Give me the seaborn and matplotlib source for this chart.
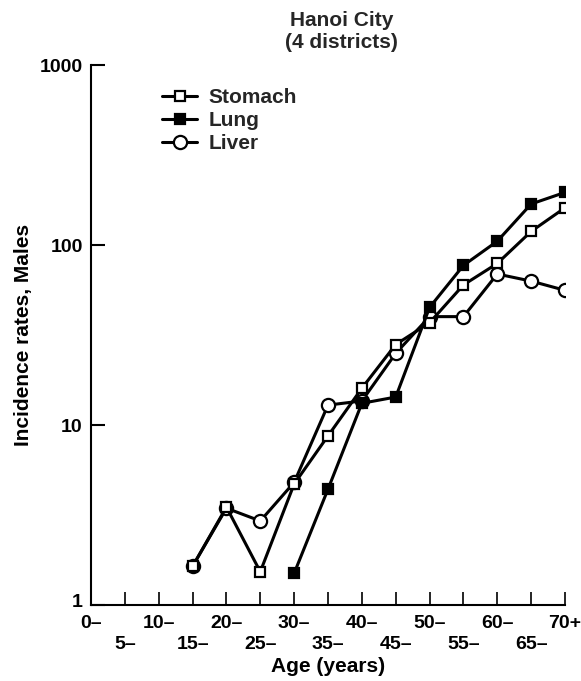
import numpy as np
import pandas as pd
import matplotlib
matplotlib.use("Agg")
import matplotlib.pyplot as plt
import matplotlib.transforms as mtransforms
import seaborn as sns

# ---- data ----
age_labels = ["0–", "5–", "10–", "15–", "20–", "25–", "30–", "35–",
              "40–", "45–", "50–", "55–", "60–", "65–", "70+"]
stomach_ages = ["15–", "20–", "25–", "30–", "35–", "40–", "45–", "50–",
                "55–", "60–", "65–", "70+"]
stomach = [1.64, 3.5, 1.53, 4.7, 8.7, 16.0, 28.0, 37.0, 60.0, 79.0, 119.0, 161.0]
lung_ages = ["30–", "35–", "40–", "45–", "50–", "55–", "60–", "65–", "70+"]
lung = [1.5, 4.4, 13.2, 14.3, 45.0, 77.0, 105.0, 169.0, 196.0]
liver_ages = stomach_ages
liver = [1.64, 3.45, 2.93, 4.8, 12.9, 13.6, 25.0, 40.0, 40.0, 69.0, 63.0, 56.0]
y_ticks = [1, 10, 100, 1000]
y_tick_labels = ["1", "10", "100", "1000"]

def frame(name, ages, vals):
    return pd.DataFrame({"age": [age_labels.index(a) for a in ages],
                         "rate": vals, "site": name})

df = pd.concat([frame("Stomach", stomach_ages, stomach),
                frame("Lung", lung_ages, lung),
                frame("Liver", liver_ages, liver)], ignore_index=True)

sns.set_theme(style="white")
plt.rcParams["font.family"] = ["Liberation Sans", "DejaVu Sans"]
plt.rcParams["font.weight"] = "bold"

fig = plt.figure(figsize=(5.81, 6.81), dpi=100)
ax = fig.add_axes([91/581, 1-605/681, 474/581, 540/681])

styles = {
    "Liver":   dict(marker="o", markerfacecolor="white", markersize=9.5, zorder=3),
    "Stomach": dict(marker="s", markerfacecolor="white", markersize=7.5, zorder=4),
    "Lung":    dict(marker="s", markerfacecolor="black", markersize=7.5, zorder=5),
}
for site in ["Liver", "Stomach", "Lung"]:
    sub = df[df["site"] == site]
    sns.lineplot(data=sub, x="age", y="rate", ax=ax, color="black",
                 linewidth=2.2, markeredgecolor="black", markeredgewidth=1.6,
                 label=site, legend=False, **styles[site])

ax.set_yscale("log")
ax.set_ylim(1, 1000)
ax.set_xlim(0, 14)
ax.set_yticks(y_ticks, labels=y_tick_labels)
ax.yaxis.set_minor_locator(matplotlib.ticker.NullLocator())

even = list(range(0, 15, 2))
odd = list(range(1, 15, 2))
ax.set_xticks(even, labels=[age_labels[i] for i in even])
ax.set_xticks(odd, labels=[age_labels[i] for i in odd], minor=True)

for s in ["top", "right"]:
    ax.spines[s].set_visible(False)
for s in ["left", "bottom"]:
    ax.spines[s].set_linewidth(1.5)
    ax.spines[s].set_color("black")

ax.tick_params(axis="y", which="major", direction="in", length=10, width=1.5,
               labelsize=14, pad=6, left=True, colors="black")
ax.tick_params(axis="x", which="major", direction="in", length=9.5, width=1.2,
               labelsize=14, pad=7, bottom=True, colors="black")
ax.tick_params(axis="x", which="minor", direction="in", length=9.5, width=1.2,
               labelsize=14, pad=22, bottom=True, colors="black")

ax.set_xlabel("Age (years)", fontsize=15, fontweight="bold", labelpad=3, color="black")
ax.set_ylabel("Incidence rates, Males", fontsize=15, fontweight="bold",
              labelpad=5, color="black")

fig.text(341.5/581, 1-32/681, "Hanoi City\n(4 districts)", ha="center", va="center",
         fontsize=15, fontweight="bold", linespacing=1.2)

h, l = ax.get_legend_handles_labels()
order = [l.index(n) for n in ["Stomach", "Lung", "Liver"]]
fig.legend([h[i] for i in order], [l[i] for i in order],
           loc="upper left", bbox_to_anchor=(162/581, 1-88/681),
           frameon=False, prop={"size": 15, "weight": "bold"},
           handlelength=1.7, handletextpad=0.55,
           labelspacing=0.2, borderpad=0, borderaxespad=0)

# lift the "1" label slightly, as in the reference
lab1 = ax.get_yticklabels()[0]
lab1.set_transform(lab1.get_transform() +
                   mtransforms.ScaledTranslation(0, 3/72, fig.dpi_scale_trans))

fig.savefig("out.png", dpi=100, facecolor="white")
